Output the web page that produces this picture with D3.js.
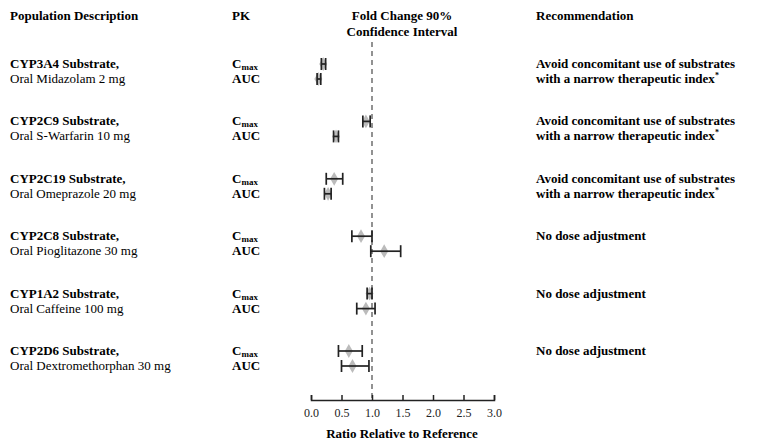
<!DOCTYPE html>
<html><head><meta charset="utf-8">
<script src="https://cdn.jsdelivr.net/npm/d3@7"></script>
<style>body{margin:0;background:#fff}svg{font-family:"Liberation Serif","Times New Roman",serif}</style>
</head><body><svg id="c" width="771" height="443"></svg>
<script>
const groups = ["CYP3A4 Substrate,","CYP2C9 Substrate,","CYP2C19 Substrate,","CYP2C8 Substrate,","CYP1A2 Substrate,","CYP2D6 Substrate,"];
const drugs = ["Oral Midazolam 2 mg","Oral S-Warfarin 10 mg","Oral Omeprazole 20 mg","Oral Pioglitazone 30 mg","Oral Caffeine 100 mg","Oral Dextromethorphan 30 mg"];
const recs = [["Avoid concomitant use of substrates","with a narrow therapeutic index"],["Avoid concomitant use of substrates","with a narrow therapeutic index"],["Avoid concomitant use of substrates","with a narrow therapeutic index"],["No dose adjustment"],["No dose adjustment"],["No dose adjustment"]];
const cmaxPt = [0.20,0.90,0.38,0.82,0.96,0.62];
const cmaxLo = [0.17,0.85,0.25,0.67,0.92,0.45];
const cmaxHi = [0.24,0.97,0.52,1.00,1.00,0.84];
const aucPt = [0.12,0.41,0.28,1.20,0.90,0.68];
const aucLo = [0.10,0.37,0.22,0.98,0.75,0.50];
const aucHi = [0.16,0.45,0.33,1.47,1.05,0.95];
const ticks = [0,0.5,1,1.5,2,2.5,3];

const svg = d3.select("#c");
const x = d3.scaleLinear().domain([0,3]).range([311,494]);
const yg = d3.scaleLinear().domain([0,5]).range([64,351]);
const b = "bold", fs = 13;
svg.append("text").attr("x",10).attr("y",20).attr("font-size",fs).attr("font-weight",b).text("Population Description");
svg.append("text").attr("x",232).attr("y",20).attr("font-size",fs).attr("font-weight",b).text("PK");
svg.append("text").attr("x",402).attr("y",20).attr("font-size",fs).attr("font-weight",b).attr("text-anchor","middle").text("Fold Change 90%");
svg.append("text").attr("x",402).attr("y",36).attr("font-size",fs).attr("font-weight",b).attr("text-anchor","middle").text("Confidence Interval");
svg.append("text").attr("x",536).attr("y",20).attr("font-size",fs).attr("font-weight",b).text("Recommendation");

svg.append("line").attr("x1",x(1)).attr("x2",x(1)).attr("y1",42).attr("y2",400).attr("stroke","#777").attr("stroke-width",1.6).attr("stroke-dasharray","5,4");

groups.forEach((g,i)=>{
  const y0 = yg(i);
  svg.append("text").attr("x",10).attr("y",y0+4).attr("font-size",fs).attr("font-weight",b).text(g);
  svg.append("text").attr("x",10).attr("y",y0+19).attr("font-size",fs).text(drugs[i]);
  const c = svg.append("text").attr("x",232).attr("y",y0+4).attr("font-size",fs).attr("font-weight",b);
  c.append("tspan").text("C");
  c.append("tspan").attr("font-size",9).attr("dy",2).text("max");
  svg.append("text").attr("x",232).attr("y",y0+19).attr("font-size",fs).attr("font-weight",b).text("AUC");
  recs[i].forEach((r,j)=>{
    const t = svg.append("text").attr("x",536).attr("y",y0+4+j*15).attr("font-size",fs).attr("font-weight",b).text(r);
    if(j===1) t.append("tspan").attr("font-size",8).attr("dy",-5).text("*");
  });
  [[cmaxLo[i],cmaxHi[i],cmaxPt[i],y0],[aucLo[i],aucHi[i],aucPt[i],y0+15]].forEach(([lo,hi,pt,yy])=>{
    svg.append("path").attr("d",d3.symbol(d3.symbolDiamond,55)()).attr("transform",`translate(${x(pt)},${yy})`).attr("fill","#bbb");
    const gg = svg.append("g").attr("stroke","#222").attr("stroke-width",1.7);
    gg.append("line").attr("x1",x(lo)).attr("x2",x(hi)).attr("y1",yy).attr("y2",yy);
    gg.append("line").attr("x1",x(lo)).attr("x2",x(lo)).attr("y1",yy-6).attr("y2",yy+6);
    gg.append("line").attr("x1",x(hi)).attr("x2",x(hi)).attr("y1",yy-6).attr("y2",yy+6);
  });
});

const ax = svg.append("g").attr("transform","translate(0,400)")
  .call(d3.axisBottom(x).tickValues(ticks).tickFormat(d3.format(".1f")).tickSizeOuter(0).tickSize(-5).tickPadding(8));
ax.select(".domain").attr("stroke","#222").attr("stroke-width",1.5);
ax.selectAll(".tick line").attr("stroke","#222").attr("stroke-width",1.5);
ax.selectAll("text").attr("font-family","Liberation Serif").attr("font-size",12).attr("fill","#222");
svg.append("text").attr("x",402).attr("y",438).attr("font-size",fs).attr("font-weight",b).attr("text-anchor","middle").text("Ratio Relative to Reference");
</script></body></html>
